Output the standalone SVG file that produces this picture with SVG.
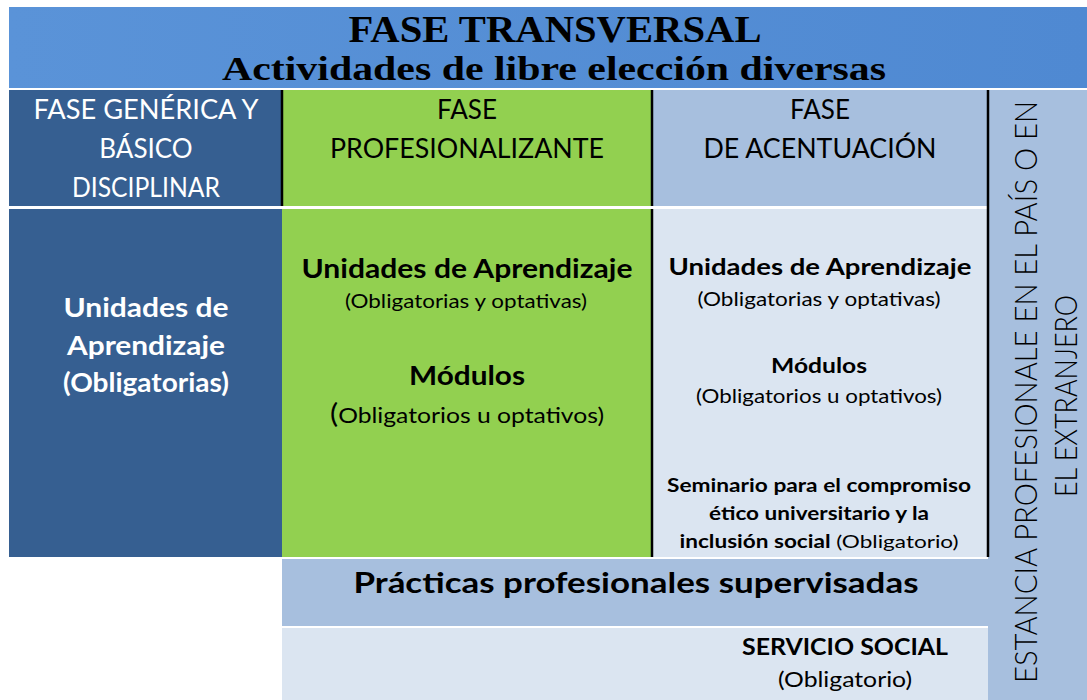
<svg xmlns="http://www.w3.org/2000/svg" width="1087" height="700" viewBox="0 0 1087 700">
<defs>
<linearGradient id="hdr" x1="0" y1="0" x2="1" y2="0">
<stop offset="0" stop-color="#5A93D8"/>
<stop offset="1" stop-color="#4F89D2"/>
</linearGradient>
<style>
.ser{font-family:"Liberation Serif","Times New Roman",serif;font-weight:bold;fill:#000;text-anchor:middle}
.s{font-family:Lato,"Liberation Sans",sans-serif;text-anchor:middle;fill:#000}
.b{font-weight:bold}
.w{fill:#fff}
.dark{fill:#365F91}
.green{fill:#92D050}
.lb{fill:#A7BFDE}
.vlb{fill:#DBE5F1}
.rule{stroke:#000;stroke-width:2.5}
</style>
</defs>
<rect width="1087" height="700" fill="#fff"/>
<g id="header">
<rect x="9" y="7" width="1078" height="81" fill="url(#hdr)"/>
<text class="ser" x="555" y="42" font-size="38" textLength="413" lengthAdjust="spacingAndGlyphs">FASE TRANSVERSAL</text>
<text class="ser" x="554" y="80" font-size="34" textLength="664" lengthAdjust="spacingAndGlyphs">Actividades de libre elección diversas</text>
</g>
<g id="fase-generica">
<rect class="dark" x="9" y="90" width="273" height="116"/>
<text class="s w" x="146" y="119" font-size="26" textLength="225" lengthAdjust="spacingAndGlyphs">FASE GENÉRICA Y</text>
<text class="s w" x="146" y="158" font-size="26">BÁSICO</text>
<text class="s w" x="146" y="197" font-size="26" textLength="148" lengthAdjust="spacingAndGlyphs">DISCIPLINAR</text>
</g>
<g id="fase-profesionalizante">
<rect class="green" x="283" y="90" width="368" height="116"/>
<text class="s" x="467" y="119" font-size="26">FASE</text>
<text class="s" x="467" y="158" font-size="26" textLength="274" lengthAdjust="spacingAndGlyphs">PROFESIONALIZANTE</text>
</g>
<g id="fase-acentuacion">
<rect class="lb" x="653" y="90" width="335" height="116"/>
<text class="s" x="820" y="119" font-size="26">FASE</text>
<text class="s" x="820" y="158" font-size="26" textLength="233" lengthAdjust="spacingAndGlyphs">DE ACENTUACIÓN</text>
</g>
<g id="estancia">
<rect class="lb" x="988" y="90" width="99" height="610"/>
<text class="s" transform="translate(1037,392) rotate(-90)" font-size="32" font-weight="300" textLength="582" lengthAdjust="spacingAndGlyphs">ESTANCIA PROFESIONALE EN EL PAÍS O EN</text>
<text class="s" transform="translate(1077,396) rotate(-90)" font-size="32" font-weight="300" textLength="202" lengthAdjust="spacingAndGlyphs">EL EXTRANJERO</text>
</g>
<g id="ua-obligatorias">
<rect class="dark" x="9" y="209" width="273" height="348"/>
<text class="s w b" x="146" y="317" font-size="26" textLength="165" lengthAdjust="spacingAndGlyphs">Unidades de</text>
<text class="s w b" x="146" y="355" font-size="26" textLength="158" lengthAdjust="spacingAndGlyphs">Aprendizaje</text>
<text class="s w b" x="146" y="392" font-size="26" textLength="166" lengthAdjust="spacingAndGlyphs">(Obligatorias)</text>
</g>
<g id="profesionalizante-contenido">
<rect class="green" x="282" y="209" width="370" height="348"/>
<text class="s b" x="467" y="278" font-size="26" textLength="331" lengthAdjust="spacingAndGlyphs">Unidades de Aprendizaje</text>
<text class="s" x="466" y="308" font-size="19" textLength="242" lengthAdjust="spacingAndGlyphs">(Obligatorias y optativas)</text>
<text class="s b" x="467" y="385" font-size="26" textLength="116" lengthAdjust="spacingAndGlyphs">Módulos</text>
<text class="s" x="467" y="423" font-size="21" textLength="274" lengthAdjust="spacingAndGlyphs"><tspan font-size="26">(</tspan>Obligatorios u optativos)</text>
</g>
<g id="acentuacion-contenido">
<rect class="vlb" x="653" y="209" width="335" height="348"/>
<text class="s b" x="820" y="275" font-size="23" textLength="303" lengthAdjust="spacingAndGlyphs">Unidades de Aprendizaje</text>
<text class="s" x="819" y="306" font-size="19" textLength="243" lengthAdjust="spacingAndGlyphs">(Obligatorias y optativas)</text>
<text class="s b" x="819" y="373" font-size="20" textLength="96" lengthAdjust="spacingAndGlyphs">Módulos</text>
<text class="s" x="819" y="403" font-size="19" textLength="246" lengthAdjust="spacingAndGlyphs">(Obligatorios u optativos)</text>
<text class="s b" x="819" y="492" font-size="18" textLength="304" lengthAdjust="spacingAndGlyphs">Seminario para el compromiso</text>
<text class="s b" x="819" y="520" font-size="18" textLength="220" lengthAdjust="spacingAndGlyphs">ético universitario y la</text>
<text class="s" x="819" y="548" font-size="18" textLength="279" lengthAdjust="spacingAndGlyphs"><tspan font-weight="bold">inclusión social</tspan> (Obligatorio)</text>
</g>
<g id="practicas">
<rect class="lb" x="282" y="559" width="706" height="67"/>
<text class="s b" x="636" y="593" font-size="29" textLength="565" lengthAdjust="spacingAndGlyphs">Prácticas profesionales supervisadas</text>
</g>
<g id="servicio-social">
<rect class="vlb" x="282" y="628" width="706" height="72"/>
<text class="s b" x="845" y="655" font-size="22" textLength="206" lengthAdjust="spacingAndGlyphs">SERVICIO SOCIAL</text>
<text class="s" x="845" y="687" font-size="21" textLength="134" lengthAdjust="spacingAndGlyphs">(Obligatorio)</text>
</g>
<g id="connectors">
<line class="rule" x1="282" y1="90" x2="282" y2="206"/>
<line class="rule" x1="652" y1="90" x2="652" y2="206"/>
<line class="rule" x1="652" y1="209" x2="652" y2="557"/>
<line class="rule" x1="988" y1="90" x2="988" y2="557"/>
</g>
</svg>
